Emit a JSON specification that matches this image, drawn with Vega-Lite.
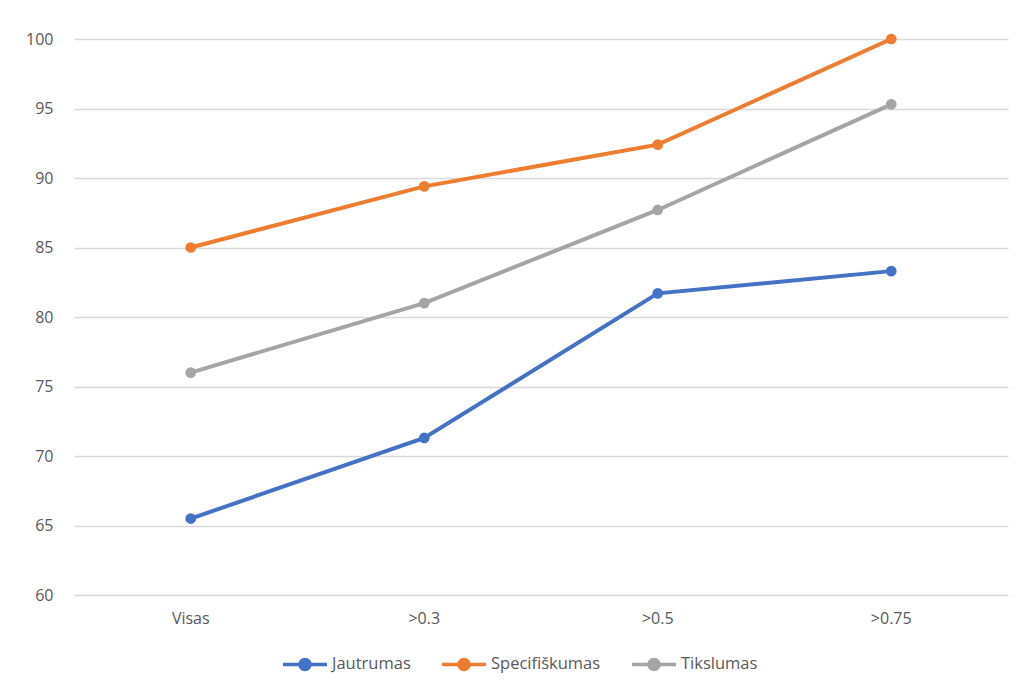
{
  "$schema": "https://vega.github.io/schema/vega-lite/v6.json",
  "width": 934,
  "height": 556,
  "autosize": {"type": "none"},
  "padding": {"left": 74, "top": 39, "right": 11, "bottom": 96},
  "background": "white",
  "config": {
    "view": {"stroke": null},
    "font": "Open Sans",
    "axis": {"labelColor": "#595959", "labelFontSize": 16, "labelFont": "Open Sans"},
    "legend": {"labelColor": "#595959", "labelFontSize": 16.5, "labelFont": "Open Sans"}
  },
  "data": {
    "values": [
      {"slenkstis": "Visas", "rodiklis": "Jautrumas", "reiksme": 65.5},
      {"slenkstis": ">0.3", "rodiklis": "Jautrumas", "reiksme": 71.3},
      {"slenkstis": ">0.5", "rodiklis": "Jautrumas", "reiksme": 81.7},
      {"slenkstis": ">0.75", "rodiklis": "Jautrumas", "reiksme": 83.3},
      {"slenkstis": "Visas", "rodiklis": "Specifiškumas", "reiksme": 85.0},
      {"slenkstis": ">0.3", "rodiklis": "Specifiškumas", "reiksme": 89.4},
      {"slenkstis": ">0.5", "rodiklis": "Specifiškumas", "reiksme": 92.4},
      {"slenkstis": ">0.75", "rodiklis": "Specifiškumas", "reiksme": 100.0},
      {"slenkstis": "Visas", "rodiklis": "Tikslumas", "reiksme": 76.0},
      {"slenkstis": ">0.3", "rodiklis": "Tikslumas", "reiksme": 81.0},
      {"slenkstis": ">0.5", "rodiklis": "Tikslumas", "reiksme": 87.7},
      {"slenkstis": ">0.75", "rodiklis": "Tikslumas", "reiksme": 95.3}
    ]
  },
  "mark": {"type": "line", "strokeWidth": 4, "point": {"filled": true, "size": 115}},
  "encoding": {
    "x": {
      "field": "slenkstis",
      "type": "nominal",
      "sort": ["Visas", ">0.3", ">0.5", ">0.75"],
      "scale": {"type": "band", "paddingInner": 0, "paddingOuter": 0},
      "axis": {"title": null, "labelAngle": 0, "domain": false, "ticks": false, "labelPadding": 15}
    },
    "y": {
      "field": "reiksme",
      "type": "quantitative",
      "scale": {"domain": [60, 100], "nice": false, "zero": false},
      "axis": {"title": null, "values": [60, 65, 70, 75, 80, 85, 90, 95, 100], "domain": false, "ticks": false, "labelPadding": 21, "gridColor": "#d9d9d9", "gridWidth": 1.3}
    },
    "color": {
      "field": "rodiklis",
      "type": "nominal",
      "scale": {"domain": ["Jautrumas", "Specifiškumas", "Tikslumas"], "range": ["#4472C4", "#ED7D31", "#A5A5A5"]},
      "legend": {
        "title": null,
        "orient": "none",
        "direction": "horizontal",
        "legendX": 207,
        "legendY": 601,
        "symbolType": "M-1,0H1M0.23,0A0.23,0.23 0 1,1 -0.23,0A0.23,0.23 0 1,1 0.23,0Z",
        "symbolSize": 1936,
        "symbolStrokeWidth": 3.5,
        "labelOffset": 3,
        "columnPadding": 24
      }
    }
  }
}
